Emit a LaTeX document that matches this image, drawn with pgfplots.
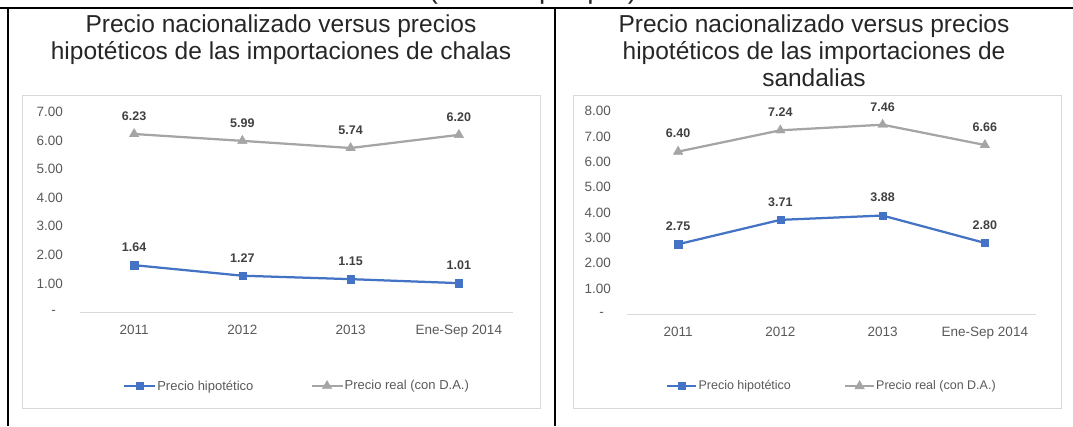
\documentclass[border=0pt]{standalone}
\usepackage{pgfplots}
\pgfplotsset{compat=1.18}
\usepackage{fontspec}
\setmainfont{Liberation Sans}
\definecolor{serA}{HTML}{4472C4}
\definecolor{serB}{HTML}{A5A5A5}
\definecolor{txt}{HTML}{595959}
\definecolor{lbl}{HTML}{404040}
\definecolor{gridc}{HTML}{D9D9D9}
\definecolor{ttl}{HTML}{262626}

\pgfplotsset{
 mystyle/.style={
  scale only axis, clip=false,
  xmin=-0.5, xmax=3.5, ymin=0,
  axis lines*=left,
  y axis line style={draw=none},
  x axis line style={draw=gridc, line width=1pt, -},
  tick style={draw=none},
  xtick={0,1,2,3},
  xticklabels={2011,2012,2013,Ene-Sep 2014},
  ticklabel style={font=\fontsize{13.5}{16}\selectfont, text=txt},
  xticklabel style={anchor=base, inner sep=0pt, yshift=-22.5pt},
  yticklabel style={anchor=east, inner sep=0pt, xshift=-17pt},
  /pgf/number format/assume math mode=true,
  nodes near coords, point meta=explicit symbolic,
  every node near coord/.append style={font=\fontsize{12.5}{15}\selectfont\bfseries, text=lbl, anchor=center, yshift=18pt},
  legend columns=2,
  legend style={draw=none, fill=none, font=\fontsize{13}{15}\selectfont, text=txt, anchor=center,
     nodes={inner xsep=1pt}},
  legend image code/.code={\draw[mark repeat=2,mark phase=2] plot coordinates {(0pt,0pt) (15.5pt,0pt) (31pt,0pt)};},
 },
 serAstyle/.style={serA, line width=2.25pt, mark=square*, mark size=3.6pt, mark options={line width=0.4pt}},
 serBstyle/.style={serB, line width=2.25pt, mark=triangle*, mark size=5.5pt, mark options={line width=0.4pt}},
}

\begin{document}
\begin{tikzpicture}
\path[use as bounding box] (0pt,0pt) rectangle (1073pt,426pt);

% partially visible text at the top (cut off in the reference)
\begin{scope}
\clip (0pt,418pt) rectangle (1073pt,426pt);
\node[anchor=base, font=\fontsize{28}{32}\selectfont, text=ttl] at (533pt,427pt) {(en US\$ por par)};
\end{scope}

% frame lines
\draw[black, line width=2pt] (0pt,418pt) -- (1073pt,418pt);
\draw[black, line width=2pt] (8pt,419pt) -- (8pt,0pt);
\draw[black, line width=2pt] (555pt,419pt) -- (555pt,0pt);

% chart boxes
\draw[gridc, line width=0.8pt] (22pt,18pt) rectangle (540pt,331pt);
\draw[gridc, line width=0.8pt] (573pt,18pt) rectangle (1061pt,331pt);

% titles
\node[anchor=base, font=\fontsize{24.5}{27}\selectfont, text=ttl] at (281pt,393pt) {Precio nacionalizado versus precios};
\node[anchor=base, font=\fontsize{24.5}{27}\selectfont, text=ttl] at (281pt,366pt) {hipotéticos de las importaciones de chalas};
\node[anchor=base, font=\fontsize{24.5}{27}\selectfont, text=ttl] at (814pt,393pt) {Precio nacionalizado versus precios};
\node[anchor=base, font=\fontsize{24.5}{27}\selectfont, text=ttl] at (814pt,366pt) {hipotéticos de las importaciones de};
\node[anchor=base, font=\fontsize{24.5}{27}\selectfont, text=ttl] at (814pt,339pt) {sandalias};

% left chart
\begin{axis}[mystyle, at={(80pt,114pt)}, anchor=south west,
  width=433pt, height=200pt, ymax=7,
  ytick={0,1,2,3,4,5,6,7},
  yticklabels={{-\hspace*{7pt}},1.00,2.00,3.00,4.00,5.00,6.00,7.00},
  legend style={at={(0.5,-0.37)}, /tikz/every even column/.append style={column sep=56pt}}]
\addplot[serAstyle] coordinates {(0,1.64)[1.64] (1,1.27)[1.27] (2,1.15)[1.15] (3,1.01)[1.01]};
\addlegendentry{Precio hipotético}
\addplot[serBstyle] coordinates {(0,6.23)[6.23] (1,5.99)[5.99] (2,5.74)[5.74] (3,6.20)[6.20]};
\addlegendentry{Precio real (con D.A.)}
\end{axis}

% right chart
\begin{axis}[mystyle, at={(627pt,112pt)}, anchor=south west,
  width=409pt, height=203pt, ymax=8,
  ytick={0,1,2,3,4,5,6,7,8},
  yticklabels={{-\hspace*{7pt}},1.00,2.00,3.00,4.00,5.00,6.00,7.00,8.00},
  yticklabel style={xshift=1pt},
  legend image code/.code={\draw[mark repeat=2,mark phase=2] plot coordinates {(0pt,0pt) (14.5pt,0pt) (29pt,0pt)};},
  legend style={at={(0.5,-0.355)}, font=\fontsize{12.5}{15}\selectfont, /tikz/every even column/.append style={column sep=52pt}}]
\addplot[serAstyle] coordinates {(0,2.75)[2.75] (1,3.71)[3.71] (2,3.88)[3.88] (3,2.80)[2.80]};
\addlegendentry{Precio hipotético}
\addplot[serBstyle] coordinates {(0,6.40)[6.40] (1,7.24)[7.24] (2,7.46)[7.46] (3,6.66)[6.66]};
\addlegendentry{Precio real (con D.A.)}
\end{axis}
\end{tikzpicture}
\end{document}
